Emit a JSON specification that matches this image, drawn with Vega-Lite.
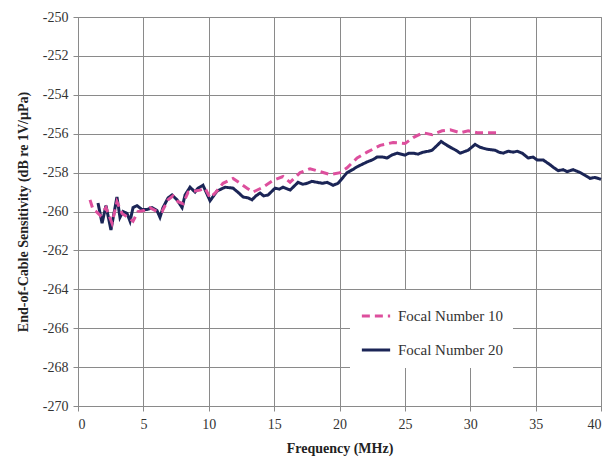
{
  "$schema": "https://vega.github.io/schema/vega-lite/v6.json",
  "width": 523,
  "height": 389,
  "autosize": "none",
  "padding": {"left": 78, "top": 17, "right": 8, "bottom": 59},
  "background": "white",
  "config": {
    "font": "Liberation Serif, Times New Roman, serif",
    "view": {"stroke": "#8a8a8a", "strokeWidth": 1},
    "axis": {
      "gridColor": "#8a8a8a",
      "gridOpacity": 1,
      "gridWidth": 1,
      "domainColor": "#8a8a8a",
      "tickColor": "#8a8a8a",
      "tickSize": 5,
      "labelOverlap": false,
      "labelFont": "Liberation Serif, Times New Roman, serif",
      "labelFontSize": 14,
      "labelColor": "#333333",
      "titleFont": "Liberation Serif, Times New Roman, serif",
      "titleFontSize": 14,
      "titleFontWeight": "bold",
      "titleColor": "#222222"
    },
    "legend": {
      "labelFont": "Liberation Serif, Times New Roman, serif"
    }
  },
  "data": {
    "values": [
      {"series": "Focal Number 20", "f": 1.53, "s": -259.56}, {"series": "Focal Number 20", "f": 1.84, "s": -260.6}, {"series": "Focal Number 20", "f": 2.14, "s": -259.7}, {"series": "Focal Number 20", "f": 2.52, "s": -260.95},
      {"series": "Focal Number 20", "f": 2.98, "s": -259.25}, {"series": "Focal Number 20", "f": 3.21, "s": -260.3}, {"series": "Focal Number 20", "f": 3.44, "s": -260.0}, {"series": "Focal Number 20", "f": 3.75, "s": -260.1},
      {"series": "Focal Number 20", "f": 3.98, "s": -260.5}, {"series": "Focal Number 20", "f": 4.21, "s": -259.8}, {"series": "Focal Number 20", "f": 4.51, "s": -259.7}, {"series": "Focal Number 20", "f": 4.9, "s": -259.9},
      {"series": "Focal Number 20", "f": 5.28, "s": -259.9}, {"series": "Focal Number 20", "f": 5.66, "s": -259.8}, {"series": "Focal Number 20", "f": 6.04, "s": -259.95}, {"series": "Focal Number 20", "f": 6.27, "s": -260.3},
      {"series": "Focal Number 20", "f": 6.5, "s": -259.8}, {"series": "Focal Number 20", "f": 6.89, "s": -259.3}, {"series": "Focal Number 20", "f": 7.19, "s": -259.15}, {"series": "Focal Number 20", "f": 7.57, "s": -259.4},
      {"series": "Focal Number 20", "f": 7.96, "s": -259.8}, {"series": "Focal Number 20", "f": 8.19, "s": -259.15}, {"series": "Focal Number 20", "f": 8.57, "s": -258.75}, {"series": "Focal Number 20", "f": 8.95, "s": -259.0},
      {"series": "Focal Number 20", "f": 9.18, "s": -258.8}, {"series": "Focal Number 20", "f": 9.56, "s": -258.65}, {"series": "Focal Number 20", "f": 10.1, "s": -259.45}, {"series": "Focal Number 20", "f": 10.63, "s": -258.95},
      {"series": "Focal Number 20", "f": 11.25, "s": -258.75}, {"series": "Focal Number 20", "f": 11.86, "s": -258.8}, {"series": "Focal Number 20", "f": 12.3, "s": -259.05}, {"series": "Focal Number 20", "f": 12.62, "s": -259.25},
      {"series": "Focal Number 20", "f": 13.0, "s": -259.3}, {"series": "Focal Number 20", "f": 13.31, "s": -259.4}, {"series": "Focal Number 20", "f": 13.6, "s": -259.2}, {"series": "Focal Number 20", "f": 13.93, "s": -259.05},
      {"series": "Focal Number 20", "f": 14.2, "s": -259.2}, {"series": "Focal Number 20", "f": 14.54, "s": -259.15}, {"series": "Focal Number 20", "f": 15.07, "s": -258.8}, {"series": "Focal Number 20", "f": 15.4, "s": -258.85},
      {"series": "Focal Number 20", "f": 15.68, "s": -258.75}, {"series": "Focal Number 20", "f": 16.22, "s": -258.9}, {"series": "Focal Number 20", "f": 16.83, "s": -258.5}, {"series": "Focal Number 20", "f": 17.2, "s": -258.6},
      {"series": "Focal Number 20", "f": 17.52, "s": -258.55}, {"series": "Focal Number 20", "f": 17.9, "s": -258.45}, {"series": "Focal Number 20", "f": 18.29, "s": -258.5}, {"series": "Focal Number 20", "f": 18.7, "s": -258.55},
      {"series": "Focal Number 20", "f": 19.05, "s": -258.5}, {"series": "Focal Number 20", "f": 19.51, "s": -258.65}, {"series": "Focal Number 20", "f": 19.89, "s": -258.55}, {"series": "Focal Number 20", "f": 20.58, "s": -258.0},
      {"series": "Focal Number 20", "f": 21.0, "s": -257.85}, {"series": "Focal Number 20", "f": 21.35, "s": -257.7}, {"series": "Focal Number 20", "f": 22.11, "s": -257.45}, {"series": "Focal Number 20", "f": 22.5, "s": -257.35},
      {"series": "Focal Number 20", "f": 22.88, "s": -257.2}, {"series": "Focal Number 20", "f": 23.3, "s": -257.2}, {"series": "Focal Number 20", "f": 23.64, "s": -257.25}, {"series": "Focal Number 20", "f": 24.0, "s": -257.1},
      {"series": "Focal Number 20", "f": 24.41, "s": -257.0}, {"series": "Focal Number 20", "f": 25.02, "s": -257.1}, {"series": "Focal Number 20", "f": 25.3, "s": -257.0}, {"series": "Focal Number 20", "f": 25.63, "s": -257.0},
      {"series": "Focal Number 20", "f": 26.0, "s": -257.05}, {"series": "Focal Number 20", "f": 26.4, "s": -256.95}, {"series": "Focal Number 20", "f": 26.8, "s": -256.9}, {"series": "Focal Number 20", "f": 27.08, "s": -256.85},
      {"series": "Focal Number 20", "f": 27.47, "s": -256.6}, {"series": "Focal Number 20", "f": 27.77, "s": -256.4}, {"series": "Focal Number 20", "f": 28.23, "s": -256.6}, {"series": "Focal Number 20", "f": 28.62, "s": -256.75},
      {"series": "Focal Number 20", "f": 28.9, "s": -256.85}, {"series": "Focal Number 20", "f": 29.23, "s": -257.0}, {"series": "Focal Number 20", "f": 29.84, "s": -256.85}, {"series": "Focal Number 20", "f": 30.37, "s": -256.55},
      {"series": "Focal Number 20", "f": 30.76, "s": -256.7}, {"series": "Focal Number 20", "f": 31.29, "s": -256.8}, {"series": "Focal Number 20", "f": 31.9, "s": -256.85}, {"series": "Focal Number 20", "f": 32.2, "s": -256.95},
      {"series": "Focal Number 20", "f": 32.52, "s": -257.0}, {"series": "Focal Number 20", "f": 32.9, "s": -256.9}, {"series": "Focal Number 20", "f": 33.28, "s": -256.95}, {"series": "Focal Number 20", "f": 33.6, "s": -256.9},
      {"series": "Focal Number 20", "f": 33.97, "s": -257.0}, {"series": "Focal Number 20", "f": 34.43, "s": -257.25}, {"series": "Focal Number 20", "f": 34.8, "s": -257.2}, {"series": "Focal Number 20", "f": 35.12, "s": -257.35},
      {"series": "Focal Number 20", "f": 35.58, "s": -257.35}, {"series": "Focal Number 20", "f": 36.11, "s": -257.6}, {"series": "Focal Number 20", "f": 36.4, "s": -257.75}, {"series": "Focal Number 20", "f": 36.73, "s": -257.9},
      {"series": "Focal Number 20", "f": 37.1, "s": -257.85}, {"series": "Focal Number 20", "f": 37.41, "s": -257.95}, {"series": "Focal Number 20", "f": 37.87, "s": -257.85}, {"series": "Focal Number 20", "f": 38.41, "s": -258.0},
      {"series": "Focal Number 20", "f": 38.8, "s": -258.15}, {"series": "Focal Number 20", "f": 39.17, "s": -258.3}, {"series": "Focal Number 20", "f": 39.5, "s": -258.25}, {"series": "Focal Number 20", "f": 39.79, "s": -258.3},
      {"series": "Focal Number 20", "f": 40.0, "s": -258.35},
      {"series": "Focal Number 10", "f": 0.92, "s": -259.4}, {"series": "Focal Number 10", "f": 1.15, "s": -259.9}, {"series": "Focal Number 10", "f": 1.38, "s": -260.0}, {"series": "Focal Number 10", "f": 1.7, "s": -260.2},
      {"series": "Focal Number 10", "f": 2.14, "s": -259.8}, {"series": "Focal Number 10", "f": 2.6, "s": -260.6}, {"series": "Focal Number 10", "f": 2.98, "s": -259.5}, {"series": "Focal Number 10", "f": 3.37, "s": -260.1},
      {"series": "Focal Number 10", "f": 3.83, "s": -260.3}, {"series": "Focal Number 10", "f": 4.21, "s": -260.5}, {"series": "Focal Number 10", "f": 4.59, "s": -260.0}, {"series": "Focal Number 10", "f": 5.05, "s": -259.95},
      {"series": "Focal Number 10", "f": 5.5, "s": -259.8}, {"series": "Focal Number 10", "f": 6.04, "s": -260.0}, {"series": "Focal Number 10", "f": 6.43, "s": -260.0}, {"series": "Focal Number 10", "f": 6.89, "s": -259.4},
      {"series": "Focal Number 10", "f": 7.27, "s": -259.2}, {"series": "Focal Number 10", "f": 7.65, "s": -259.5}, {"series": "Focal Number 10", "f": 8.04, "s": -259.6}, {"series": "Focal Number 10", "f": 8.42, "s": -259.0},
      {"series": "Focal Number 10", "f": 8.95, "s": -258.95}, {"series": "Focal Number 10", "f": 9.33, "s": -258.9}, {"series": "Focal Number 10", "f": 9.72, "s": -258.8}, {"series": "Focal Number 10", "f": 10.1, "s": -259.3},
      {"series": "Focal Number 10", "f": 10.56, "s": -259.0}, {"series": "Focal Number 10", "f": 11.09, "s": -258.55}, {"series": "Focal Number 10", "f": 11.86, "s": -258.3}, {"series": "Focal Number 10", "f": 12.93, "s": -258.8},
      {"series": "Focal Number 10", "f": 13.39, "s": -259.0}, {"series": "Focal Number 10", "f": 14.15, "s": -258.75}, {"series": "Focal Number 10", "f": 14.92, "s": -258.4}, {"series": "Focal Number 10", "f": 15.68, "s": -258.2},
      {"series": "Focal Number 10", "f": 16.22, "s": -258.5}, {"series": "Focal Number 10", "f": 16.99, "s": -258.0}, {"series": "Focal Number 10", "f": 17.75, "s": -257.8}, {"series": "Focal Number 10", "f": 18.52, "s": -257.95},
      {"series": "Focal Number 10", "f": 19.28, "s": -258.1}, {"series": "Focal Number 10", "f": 20.05, "s": -258.0}, {"series": "Focal Number 10", "f": 20.58, "s": -257.75}, {"series": "Focal Number 10", "f": 21.35, "s": -257.25},
      {"series": "Focal Number 10", "f": 22.11, "s": -256.95}, {"series": "Focal Number 10", "f": 23.11, "s": -256.6}, {"series": "Focal Number 10", "f": 24.1, "s": -256.45}, {"series": "Focal Number 10", "f": 25.02, "s": -256.5},
      {"series": "Focal Number 10", "f": 25.63, "s": -256.2}, {"series": "Focal Number 10", "f": 26.4, "s": -255.95}, {"series": "Focal Number 10", "f": 27.08, "s": -256.05}, {"series": "Focal Number 10", "f": 27.85, "s": -255.85},
      {"series": "Focal Number 10", "f": 28.46, "s": -255.8}, {"series": "Focal Number 10", "f": 29.23, "s": -255.95}, {"series": "Focal Number 10", "f": 29.84, "s": -255.85}, {"series": "Focal Number 10", "f": 30.53, "s": -255.95},
      {"series": "Focal Number 10", "f": 31.14, "s": -255.95}, {"series": "Focal Number 10", "f": 32.06, "s": -255.95}
    ]
  },
  "mark": {"type": "line", "strokeWidth": 3, "interpolate": "linear"},
  "encoding": {
    "x": {"field": "f", "type": "quantitative", "scale": {"domain": [0, 40], "nice": false},
          "axis": {"values": [0, 5, 10, 15, 20, 25, 30, 35, 40], "title": "Frequency (MHz)", "titlePadding": 10, "labelPadding": 6}},
    "y": {"field": "s", "type": "quantitative", "scale": {"domain": [-270, -250], "nice": false, "zero": false},
          "axis": {"values": [-270, -268, -266, -264, -262, -260, -258, -256, -254, -252, -250], "labelOverlap": false, "labelExpr": "datum.value + ''", "title": "End-of-Cable Sensitivity (dB re 1V/µPa)", "titlePadding": 12, "labelPadding": 5}},
    "color": {"field": "series", "type": "nominal",
              "scale": {"domain": ["Focal Number 10", "Focal Number 20"], "range": ["#dd4f9d", "#1b2556"]},
              "legend": {"orient": "none", "legendX": 272, "legendY": 273, "title": null, "fillColor": "white", "padding": 10,
                         "symbolType": "stroke", "symbolSize": 800, "symbolStrokeWidth": 3,
                         "labelFont": "Liberation Serif, Times New Roman, serif", "labelFontSize": 15, "labelColor": "#333333", "rowPadding": 10, "labelOffset": 6}},
    "strokeDash": {"field": "series", "type": "nominal",
                   "scale": {"domain": ["Focal Number 10", "Focal Number 20"], "range": [[8, 5], [1, 0]]}}
  }
}
